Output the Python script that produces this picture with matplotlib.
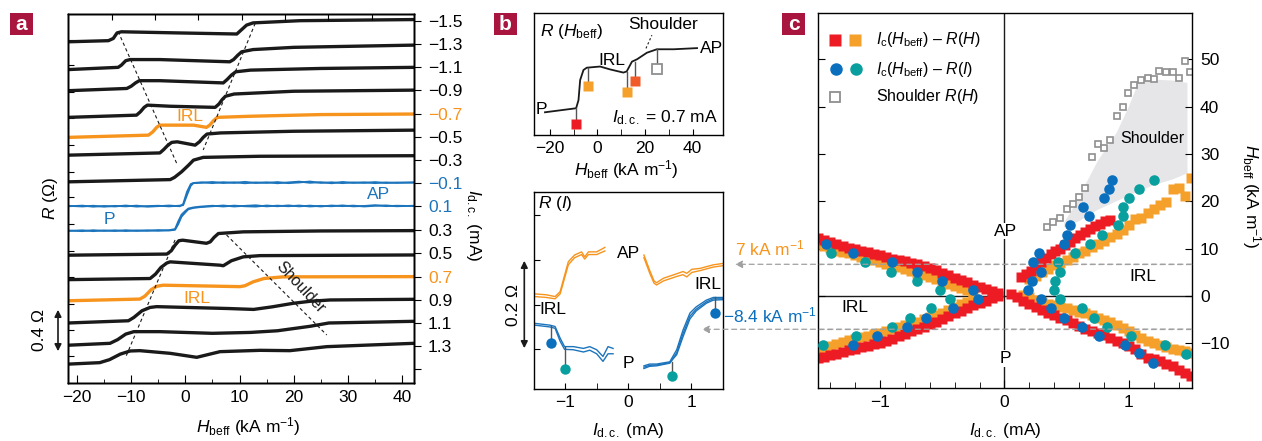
import matplotlib
matplotlib.use('Agg')
import matplotlib.pyplot as plt
from matplotlib.patches import Rectangle, Polygon, FancyArrowPatch
from matplotlib.ticker import MultipleLocator, FixedLocator

plt.rcParams['font.family'] = ['Liberation Sans', 'DejaVu Sans']
plt.rcParams['mathtext.fontset'] = 'custom'
plt.rcParams['mathtext.rm'] = 'Liberation Sans'
plt.rcParams['mathtext.it'] = 'Liberation Sans:italic'
plt.rcParams['mathtext.sf'] = 'Liberation Sans'
plt.rcParams['mathtext.bf'] = 'Liberation Sans:bold'
plt.rcParams['axes.linewidth'] = 1.0

# ---------------- Panel a data: R(H_beff) curves for each I_dc ----------------
current_labels = ['\u22121.5', '\u22121.3', '\u22121.1', '\u22120.9', '\u22120.7', '\u22120.5', '\u22120.3',
                  '\u22120.1', '0.1', '0.3', '0.5', '0.7', '0.9', '1.1', '1.3', '']
current_levels = [3.258, 3.048, 2.842, 2.632, 2.421, 2.214, 2.007, 1.800, 1.590, 1.377,
                  1.167, 0.957, 0.750, 0.543, 0.333, 0.126]

H_n15 = [-21.6, -14.2, -13.3, -12.6, -11.8, -1.6, 9.5, 10.4, 11.3, 12.5, 21.2, 42.2]
R_n15 = [3.07, 3.08, 3.10, 3.15, 3.16, 3.15, 3.14, 3.18, 3.22, 3.24, 3.26, 3.27]
H_n13 = [-21.6, -12.4, -11.8, -11.0, -10.2, -4.7, 8.2, 8.9, 9.7, 10.4, 12.5, 20, 42.2]
R_n13 = [2.82, 2.84, 2.86, 2.90, 2.91, 2.91, 2.89, 2.91, 2.95, 2.98, 3.00, 3.02, 3.04]
H_n11 = [-21.6, -10.8, -10.0, -9.2, -8.5, -4.7, 7.0, 7.7, 8.5, 9.3, 12.0, 25, 42.2]
R_n11 = [2.63, 2.65, 2.67, 2.70, 2.72, 2.72, 2.70, 2.73, 2.77, 2.80, 2.815, 2.83, 2.84]
H_n09 = [-21.6, -9.0, -8.3, -7.6, -7.0, -2.8, 5.5, 6.2, 6.8, 7.4, 9.0, 20, 42.2]
R_n09 = [2.39, 2.41, 2.44, 2.48, 2.50, 2.49, 2.48, 2.51, 2.55, 2.58, 2.60, 2.625, 2.635]
H_n07 = [-21.6, -6.8, -6.0, -5.3, -4.7, 1.5, 3.9, 4.5, 5.2, 5.9, 12, 25, 42.2]
R_n07 = [2.21, 2.23, 2.26, 2.30, 2.32, 2.32, 2.30, 2.32, 2.36, 2.39, 2.40, 2.415, 2.42]
H_n05 = [-21.6, -4.7, -4.0, -3.2, -2.5, -1.5, 1.8, 2.6, 3.3, 4.0, 6.5, 20, 42.2]
R_n05 = [2.05, 2.07, 2.10, 2.14, 2.165, 2.17, 2.14, 2.17, 2.21, 2.24, 2.25, 2.265, 2.275]
H_n03 = [-21.6, -2.8, -2.0, -0.7, 0.6, 1.5, 3.3, 13.8, 42.2]
R_n03 = [1.81, 1.83, 1.85, 1.90, 1.96, 2.005, 2.03, 2.04, 2.045]
H_n01 = [-21.6, -19, -17, -15, -13, -11, -9, -7, -5, -3, -1, -0.4, 0.3, 1.0, 1.5, 3, 5, 7, 9, 11,
         13, 15, 17, 19, 21, 23, 25, 27, 29, 31, 33, 35, 37, 39, 42.2]
R_n01a = [1.590, 1.596, 1.586, 1.593, 1.588, 1.597, 1.587, 1.592, 1.595, 1.589, 1.596,
          1.600, 1.690, 1.775, 1.798,
          1.801, 1.809, 1.799, 1.806, 1.797, 1.805, 1.800, 1.808, 1.798, 1.804, 1.813, 1.800,
          1.806, 1.798, 1.805, 1.800, 1.808, 1.799, 1.804, 1.802]
R_n01b = [1.594, 1.588, 1.595, 1.586, 1.594, 1.589, 1.596, 1.586, 1.591, 1.597, 1.590,
          1.610, 1.720, 1.790, 1.800,
          1.806, 1.798, 1.807, 1.800, 1.810, 1.799, 1.806, 1.797, 1.805, 1.812, 1.801, 1.807,
          1.797, 1.809, 1.800, 1.806, 1.798, 1.805, 1.800, 1.806]
H_p01 = [-21.6, -19, -17, -15, -13, -11, -9, -7, -5, -3, -1.9, -1.3, -0.7, 0, 0.55, 1.5, 2.7,
         5, 7, 9, 11, 13, 15, 17, 19, 21, 23, 25, 27, 29, 31, 33, 35, 37, 39, 42.2]
R_p01a = [1.372, 1.366, 1.375, 1.368, 1.374, 1.367, 1.373, 1.369, 1.376, 1.372,
          1.378, 1.430, 1.497, 1.535, 1.563, 1.575, 1.582,
          1.590, 1.597, 1.588, 1.594, 1.599, 1.589, 1.596, 1.590, 1.597, 1.588, 1.594, 1.590,
          1.598, 1.589, 1.593, 1.600, 1.591, 1.595, 1.592]
R_p01b = [1.368, 1.374, 1.366, 1.373, 1.367, 1.375, 1.368, 1.374, 1.369, 1.375,
          1.385, 1.455, 1.515, 1.548, 1.570, 1.580, 1.587,
          1.595, 1.588, 1.596, 1.590, 1.587, 1.597, 1.590, 1.598, 1.589, 1.596, 1.588, 1.597,
          1.591, 1.596, 1.588, 1.594, 1.598, 1.590, 1.595]
H_p03 = [-21.6, -3.4, -2.6, -1.9, -1.2, -0.5, 3.9, 4.6, 5.3, 6.1, 10.7, 25, 42.2]
R_p03 = [1.15, 1.16, 1.19, 1.24, 1.28, 1.285, 1.257, 1.27, 1.31, 1.345, 1.36, 1.368, 1.371]
H_p05 = [-21.6, -6.5, -5.5, -4.5, -3.4, -2.8, 6.4, 7.0, 8.5, 10.7, 13.8, 42.2]
R_p05 = [0.93, 0.94, 0.98, 1.04, 1.08, 1.09, 1.06, 1.055, 1.10, 1.135, 1.146, 1.152]
H_p07 = [-21.6, -8.4, -7.5, -6.3, -5.3, -4.1, 10.1, 11.0, 12.5, 14.5, 18, 42.2]
R_p07 = [0.74, 0.755, 0.78, 0.84, 0.87, 0.88, 0.867, 0.875, 0.91, 0.94, 0.955, 0.957]
H_p09 = [-21.6, -10.5, -9.5, -8.0, -6.5, -5.3, 8, 12.6, 16, 19.9, 23, 26.7, 42.2]
R_p09 = [0.54, 0.56, 0.59, 0.65, 0.68, 0.687, 0.67, 0.662, 0.685, 0.717, 0.735, 0.747, 0.753]
H_p11 = [-21.6, -13.9, -12.5, -11.0, -9.5, -4.7, 5, 12, 17, 23, 26.5, 42.2]
R_p11 = [0.34, 0.357, 0.39, 0.44, 0.462, 0.462, 0.447, 0.455, 0.47, 0.51, 0.54, 0.555]
H_p13 = [-21.6, -15.8, -14.0, -12.0, -10.2, -8.4, -2.8, 2.1, 6.4, 13.8, 19.3, 26.1, 42.2]
R_p13 = [0.17, 0.183, 0.21, 0.26, 0.288, 0.291, 0.267, 0.231, 0.282, 0.294, 0.291, 0.327, 0.357]

# guide lines in panel a (switching fields)
guide1_H = [-12.4, -1.6];  guide1_R = [3.162, 1.977]
guide2_H = [12.9, 3.3];    guide2_R = [3.237, 2.097]
guide3_H = [-1.9, -11.1];  guide3_R = [1.287, 0.222]
guide4_H = [7.6, 26.1];    guide4_R = [1.332, 0.432]

a_left_ticks = [0.24, 0.48, 0.71, 0.95, 1.19, 1.43, 1.67, 1.90, 2.14, 2.38, 2.62, 2.86, 3.09]
a_top_ticks = [-13.6, -5.6, 2.4, 10.4, 18.4, 26.4, 34.4]

# ---------------- Panel b (top): R(H_beff) at I_dc = 0.7 mA ----------------
b1_H = [-22.1, -9.0, -8.0, -7.3, -5.9, -4.5, 1.1, 5.3, 10.9, 12.3, 14.5, 16.6, 20.8, 25.0, 32.1, 41.9]
b1_R = [0.738, 0.752, 0.78, 0.850, 0.885, 0.893, 0.897, 0.887, 0.876, 0.880, 0.914, 0.922, 0.945,
        0.957, 0.957, 0.961]
b1_mk_H = [-8.9, -4.1, 12.4, 15.9, 25.0]
b1_mk_R = [0.696, 0.829, 0.810, 0.848, 0.887]
b1_mk_top = [0.752, 0.893, 0.879, 0.914, 0.957]

# ---------------- Panel b (bottom): R(I) ----------------
b2_or_left_I = [-1.48, -1.30, -1.16, -1.08, -0.95, -0.85, -0.74, -0.69, -0.63, -0.50, -0.37]
b2_or_left_Ra = [0.224, 0.222, 0.218, 0.229, 0.296, 0.311, 0.318, 0.307, 0.318, 0.318, 0.328]
b2_or_left_Rb = [0.218, 0.216, 0.213, 0.224, 0.289, 0.305, 0.312, 0.302, 0.312, 0.312, 0.320]
b2_or_right_I = [0.25, 0.34, 0.41, 0.45, 0.56, 0.77, 0.87, 0.93, 1.01, 1.14, 1.35, 1.50]
b2_or_right_Ra = [0.311, 0.277, 0.253, 0.249, 0.259, 0.269, 0.274, 0.270, 0.279, 0.281, 0.289, 0.292]
b2_or_right_Rb = [0.305, 0.271, 0.248, 0.244, 0.253, 0.263, 0.267, 0.262, 0.272, 0.276, 0.284, 0.287]
b2_bl_left_I = [-1.48, -1.24, -1.16, -1.08, -1.01, -0.87, -0.71, -0.61, -0.50, -0.40, -0.32, -0.24]
b2_bl_left_Ra = [0.158, 0.154, 0.151, 0.125, 0.106, 0.106, 0.102, 0.106, 0.099, 0.084, 0.106, 0.102]
b2_bl_left_Rb = [0.154, 0.150, 0.147, 0.118, 0.100, 0.099, 0.094, 0.098, 0.090, 0.073, 0.090, 0.090]
b2_bl_right_I = [0.25, 0.34, 0.45, 0.66, 0.77, 0.87, 0.98, 1.08, 1.24, 1.35, 1.50]
b2_bl_right_Ra = [0.063, 0.067, 0.067, 0.072, 0.099, 0.143, 0.181, 0.195, 0.210, 0.216, 0.216]
b2_bl_right_Rb = [0.057, 0.062, 0.063, 0.069, 0.092, 0.135, 0.174, 0.190, 0.206, 0.213, 0.213]
b2_bl_right_Rc = [0.060, 0.064, 0.065, 0.070, 0.088, 0.128, 0.168, 0.186, 0.203, 0.210, 0.211]
b2_mk_I = [-1.23, -1.0, 0.69, 1.38]
b2_mk_R = [0.115, 0.055, 0.041, 0.181]
b2_mk_top = [0.153, 0.106, 0.072, 0.216]

# ---------------- Panel c: phase diagram ----------------
red_ul_x = [-1.50, -1.45, -1.40, -1.35, -1.30, -1.25, -1.20, -1.15, -1.10, -1.05, -1.00, -0.95, -0.90,
            -0.85, -0.80, -0.75, -0.70, -0.65, -0.60, -0.55, -0.50, -0.45, -0.40, -0.35, -0.30, -0.25,
            -0.20, -0.15, -0.10, -0.05]
red_ul_y = [12.2, 11.8, 11.4, 11.0, 10.6, 10.2, 10.0, 9.6, 9.2, 8.8, 8.6, 8.2, 7.9, 7.6, 7.3, 7.0, 6.7,
            6.3, 5.9, 5.4, 4.9, 4.4, 3.9, 3.4, 2.9, 2.4, 1.9, 1.5, 1.1, 0.7]
red_ll_x = red_ul_x
red_ll_y = [-13.2, -12.9, -12.5, -12.2, -11.8, -11.5, -11.1, -10.8, -10.5, -10.2, -9.9, -9.5, -9.0,
            -8.5, -8.0, -7.5, -7.0, -6.5, -6.0, -5.4, -4.8, -4.3, -3.7, -3.1, -2.6, -2.0, -1.5, -1.0,
            -0.5, 0.0]
red_lr_x = [0.05, 0.10, 0.15, 0.20, 0.25, 0.30, 0.35, 0.40, 0.45, 0.50, 0.55, 0.60, 0.65, 0.70, 0.75,
            0.80, 0.85, 0.90, 0.95, 1.00, 1.05, 1.10, 1.15, 1.20, 1.25, 1.30, 1.35, 1.40, 1.45, 1.50]
red_lr_y = [0.5, -0.2, -1.0, -1.6, -2.3, -2.9, -3.5, -4.0, -4.6, -5.1, -5.8, -6.4, -6.9, -7.3, -7.8,
            -8.3, -8.9, -9.5, -10.0, -10.6, -11.3, -12.3, -13.0, -13.3, -13.8, -14.3, -14.8, -15.6,
            -16.3, -16.8]
red_ur_x = [0.13, 0.17, 0.21, 0.25, 0.29, 0.33, 0.37, 0.41, 0.45, 0.49, 0.53, 0.57, 0.61, 0.65, 0.69,
            0.73, 0.77, 0.81, 0.85]
red_ur_y = [4.0, 4.6, 5.3, 6.4, 7.2, 8.0, 8.8, 9.5, 10.0, 10.8, 11.5, 12.2, 12.9, 13.5, 14.2, 14.8,
            15.3, 15.8, 16.1]

or_ul_x = [-1.50, -1.45, -1.40, -1.35, -1.30, -1.25, -1.20, -1.15, -1.10, -1.05, -1.00, -0.95, -0.90,
           -0.85, -0.80, -0.75, -0.70, -0.65, -0.60, -0.55, -0.50, -0.45, -0.40, -0.35, -0.30, -0.25]
or_ul_y = [11.0, 10.5, 10.1, 9.6, 9.3, 9.0, 8.6, 8.2, 7.8, 7.5, 7.2, 6.8, 6.4, 6.1, 5.7, 5.3, 4.9, 4.5,
           4.1, 3.6, 3.1, 2.6, 2.1, 1.7, 1.2, 0.8]
or_ll_x = or_ul_x
or_ll_y = [-11.5, -11.0, -10.6, -10.2, -9.8, -9.4, -9.0, -8.7, -8.4, -8.1, -7.8, -7.4, -7.0, -6.6,
           -6.2, -5.8, -5.4, -4.9, -4.5, -4.0, -3.5, -3.0, -2.4, -1.8, -1.2, -0.6]
or_lr_x = [0.15, 0.20, 0.25, 0.30, 0.35, 0.40, 0.45, 0.50, 0.55, 0.60, 0.65, 0.70, 0.75, 0.80, 0.85,
           0.90, 0.95, 1.00, 1.05, 1.10, 1.15, 1.20, 1.25, 1.30, 1.35, 1.40, 1.45, 1.50]
or_lr_y = [0.3, -0.3, -0.8, -1.2, -1.6, -1.9, -2.3, -2.6, -3.0, -3.3, -3.7, -4.1, -4.6, -5.1, -5.6,
           -6.2, -6.8, -7.5, -8.2, -8.9, -9.5, -10.0, -10.3, -10.8, -11.2, -11.4, -11.6, -12.0]
or_ur_x = [0.20, 0.25, 0.30, 0.35, 0.40, 0.45, 0.50, 0.55, 0.60, 0.65, 0.70, 0.75, 0.80, 0.85, 0.90,
           0.95, 1.00, 1.05, 1.10, 1.15, 1.20, 1.25, 1.30, 1.35, 1.40, 1.45, 1.50]
or_ur_y = [3.5, 4.3, 5.0, 5.8, 6.5, 7.0, 7.6, 8.3, 9.0, 9.6, 10.3, 11.0, 11.7, 12.4, 13.0, 14.0, 15.0,
           16.2, 16.5, 17.5, 18.3, 19.2, 19.8, 22.5, 22.8, 21.2, 25.0]

blue_x = [-1.43, -1.22, -0.90, -0.70, -0.50, -0.25, -0.21, -0.41, -0.63, -0.78, -1.02, -1.22,
          0.19, 0.22, 0.29, 0.23, 0.28, 0.48, 0.50, 0.53, 0.68, 0.63, 0.80, 0.84, 0.86,
          0.29, 0.37, 0.48, 0.62, 0.76, 0.97, 1.08, 1.19]
blue_y = [10.9, 9.0, 7.1, 5.1, 3.2, 1.3, -0.6, -2.6, -4.6, -6.5, -8.5, -10.4,
          1.3, 3.2, 5.1, 7.1, 9.0, 10.9, 12.9, 14.9, 16.8, 18.7, 20.6, 22.6, 24.5,
          -0.6, -2.6, -4.6, -6.5, -8.5, -10.4, -12.1, -14.2]
teal_x = [-1.46, -1.19, -0.90, -0.76, -0.59, -0.44, -0.52, -0.70, -0.91, -1.12, -1.39,
          0.45, 0.40, 0.41, 0.45, 0.43, 0.57, 0.69, 0.78, 0.91, 0.95, 0.95, 1.00, 1.08, 1.20,
          0.62, 0.72, 0.82, 1.02, 1.29, 1.46]
teal_y = [-10.4, -8.5, -6.5, -4.6, -2.6, -0.6, 1.3, 3.2, 5.1, 7.1, 9.0,
          -0.6, 1.3, 3.2, 5.1, 7.1, 9.0, 10.9, 12.9, 14.9, 16.8, 18.7, 20.6, 22.6, 24.5,
          -2.6, -4.6, -6.5, -8.5, -10.4, -12.3]
shoulder_x = [0.34, 0.39, 0.45, 0.50, 0.55, 0.60, 0.65, 0.70, 0.75, 0.80, 0.85, 0.90, 0.95, 0.99,
              1.04, 1.10, 1.15, 1.20, 1.24, 1.30, 1.35, 1.40, 1.45, 1.49]
shoulder_y = [14.6, 15.7, 16.4, 18.4, 19.4, 21.0, 22.9, 29.4, 32.0, 31.3, 33.0, 38.1, 40.0, 42.8,
              44.5, 45.6, 46.1, 45.8, 47.5, 47.3, 47.2, 46.0, 49.6, 47.3]
shade_x = [0.48, 0.55, 0.65, 0.75, 0.90, 1.00, 1.08, 1.20, 1.35, 1.47,
           1.47, 1.35, 1.20, 1.05, 0.90, 0.75, 0.60, 0.48]
shade_y = [15.5, 18.5, 23.5, 28.5, 34.4, 40.0, 45.3, 45.7, 45.5, 45.0,
           25.9, 24.6, 23.4, 21.8, 20.0, 18.2, 15.8, 14.5]
field_irl_pos = 6.7     # kA/m, dashed guide (label 7)
field_irl_neg = -7.0    # kA/m, dashed guide (label -8.4)

# ---------------- colours ----------------
BLACK = '#1a1a1a'
ORANGE = '#f7941d'
BLUE = '#1c75bc'
RED = '#ed1c24'
ORSQ = '#f6a02c'
REDOR = '#f15a29'
DBLUE = '#0a6fbd'
TEAL = '#0a9f9f'
GRAY = '#8f8f8f'
CRIMSON = '#a8163f'
FS = 12.5
FS_S = 11.5

W, H = 1262, 441
fig = plt.figure(figsize=(W / 100, H / 100), dpi=100)


def rect(l, t, r, b):
    return [l / W, 1 - b / H, (r - l) / W, (b - t) / H]


def fpx(x, y):
    return (x / W, 1 - y / H)


ax_a = fig.add_axes(rect(68.3, 14, 414, 383))
ax_b1 = fig.add_axes(rect(534.3, 13.3, 722.7, 135.3))
ax_b2 = fig.add_axes(rect(534.3, 191.7, 722.7, 389))
ax_c = fig.add_axes(rect(817.7, 13.3, 1191.7, 388.3))

# ================= Panel a =================
black_curves = [(H_n15, R_n15, BLACK), (H_n13, R_n13, BLACK), (H_n11, R_n11, BLACK),
                (H_n09, R_n09, BLACK), (H_n07, R_n07, ORANGE), (H_n05, R_n05, BLACK),
                (H_n03, R_n03, BLACK), (H_p03, R_p03, BLACK), (H_p05, R_p05, BLACK),
                (H_p07, R_p07, ORANGE), (H_p09, R_p09, BLACK), (H_p11, R_p11, BLACK),
                (H_p13, R_p13, BLACK)]
for hh, rr, col in black_curves:
    ax_a.plot(hh, rr, color=col, lw=2.4, solid_joinstyle='round', solid_capstyle='round')
for rr in (R_n01a, R_n01b):
    ax_a.plot(H_n01, rr, color=BLUE, lw=1.3)
for rr in (R_p01a, R_p01b):
    ax_a.plot(H_p01, rr, color=BLUE, lw=1.3)
for gh, gr in ((guide1_H, guide1_R), (guide2_H, guide2_R), (guide3_H, guide3_R), (guide4_H, guide4_R)):
    ax_a.plot(gh, gr, color=BLACK, lw=0.8, ls=(0, (3, 2.5)))

ax_a.set_xlim(-21.6, 42.2)
ax_a.set_ylim(0, 3.32)
ax_a.xaxis.set_major_locator(MultipleLocator(10))
ax_a.xaxis.set_minor_locator(MultipleLocator(5))
ax_a.tick_params(axis='x', which='major', direction='in', length=6, labelsize=FS, pad=5)
ax_a.tick_params(axis='x', which='minor', direction='in', length=3)
ax_a.yaxis.set_major_locator(FixedLocator(a_left_ticks))
ax_a.tick_params(axis='y', direction='in', length=4, labelleft=False)

ax_ar = ax_a.twinx()
ax_ar.set_ylim(0, 3.32)
ax_ar.set_yticks(current_levels)
ax_ar.set_yticklabels(current_labels)
ax_ar.tick_params(axis='y', direction='out', length=5, labelsize=FS, pad=5)
for lab, txt in zip(ax_ar.get_yticklabels(), current_labels):
    if txt in ('\u22120.7', '0.7'):
        lab.set_color(ORANGE)
    elif txt in ('\u22120.1', '0.1'):
        lab.set_color(BLUE)

ax_at = ax_a.twiny()
ax_at.set_xlim(-21.6, 42.2)
ax_at.set_xticks(a_top_ticks)
ax_at.tick_params(axis='x', direction='in', length=4, labeltop=False)

ax_a.text(0.86, 2.397, 'IRL', color=ORANGE, fontsize=FS, ha='center', va='center')
ax_a.text(2.1, 0.762, 'IRL', color=ORANGE, fontsize=FS, ha='center', va='center')
ax_a.text(35.6, 1.692, 'AP', color=BLUE, fontsize=FS, ha='center', va='center')
ax_a.text(-14.0, 1.473, 'P', color=BLUE, fontsize=FS, ha='center', va='center')
ax_a.text(21.3, 0.86, 'Shoulder', color=BLACK, fontsize=FS_S, ha='center', va='center',
          rotation=-47, rotation_mode='anchor')

fig.text(*fpx(248, 427), r'$H_{\rm beff}$ (kA m$^{-1}$)', fontsize=FS, ha='center', va='center')
fig.text(*fpx(50, 199), r'$R$ (Ω)', fontsize=FS, ha='center', va='center', rotation=90)
fig.text(*fpx(39.5, 330), '0.4 Ω', fontsize=FS, ha='center', va='center', rotation=90)
fig.text(*fpx(473, 225), r'$I_{\rm d.c.}$ (mA)', fontsize=FS, ha='center', va='center', rotation=270)
fig.add_artist(FancyArrowPatch(fpx(58, 307), fpx(58, 354), transform=fig.transFigure,
                               arrowstyle='<|-|>', mutation_scale=10, lw=1.2, color=BLACK))

# ================= Panel b top =================
ax_b1.plot(b1_H, b1_R, color=BLACK, lw=1.3)
sq_colors = [RED, ORSQ, ORSQ, REDOR, 'white']
for hx, ry, rt, col in zip(b1_mk_H, b1_mk_R, b1_mk_top, sq_colors):
    ax_b1.plot([hx, hx], [ry, rt], color='#555555', lw=1.0, zorder=2)
    if col == 'white':
        ax_b1.plot(hx, ry, 's', ms=6.5, mfc='white', mec=GRAY, mew=1.3, zorder=3)
    else:
        ax_b1.plot(hx, ry, 's', ms=7, mfc=col, mec='none', zorder=3)
ax_b1.plot([20.4, 22.9], [0.96, 1.006], color=BLACK, lw=0.8, ls=(0, (2, 2)))
ax_b1.set_xlim(-26.6, 52.7)
ax_b1.set_ylim(0.658, 1.082)
ax_b1.xaxis.set_major_locator(FixedLocator([-20, 0, 20, 40]))
ax_b1.xaxis.set_minor_locator(FixedLocator([-10, 10, 30]))
ax_b1.tick_params(axis='x', which='both', direction='in', length=4, labelsize=FS, pad=4)
ax_b1.set_yticks([])
ax_b1.text(-24.2, 1.018, r'$R$ ($H_{\rm beff}$)', fontsize=FS, ha='left', va='center')
ax_b1.text(27.8, 1.042, 'Shoulder', fontsize=FS, ha='center', va='center')
ax_b1.text(6.0, 0.917, 'IRL', fontsize=FS, ha='center', va='center')
ax_b1.text(-23.5, 0.746, 'P', fontsize=FS, ha='center', va='center')
ax_b1.text(43.3, 0.959, 'AP', fontsize=FS, ha='left', va='center')
ax_b1.text(50.6, 0.718, r'$I_{\rm d.c.}$ = 0.7 mA', fontsize=FS, ha='right', va='center')
fig.text(*fpx(626.7, 170), r'$H_{\rm beff}$ (kA m$^{-1}$)', fontsize=FS, ha='center', va='center')

# ================= Panel b bottom =================
for rr in (b2_or_left_Ra, b2_or_left_Rb):
    ax_b2.plot(b2_or_left_I, rr, color=ORANGE, lw=1.0)
for rr in (b2_or_right_Ra, b2_or_right_Rb):
    ax_b2.plot(b2_or_right_I, rr, color=ORANGE, lw=1.0)
for rr in (b2_bl_left_Ra, b2_bl_left_Rb):
    ax_b2.plot(b2_bl_left_I, rr, color=BLUE, lw=1.0)
for rr in (b2_bl_right_Ra, b2_bl_right_Rb, b2_bl_right_Rc):
    ax_b2.plot(b2_bl_right_I, rr, color=BLUE, lw=1.0)
circ_colors = [DBLUE, TEAL, TEAL, DBLUE]
for ix, ry, rt, col in zip(b2_mk_I, b2_mk_R, b2_mk_top, circ_colors):
    ax_b2.plot([ix, ix], [ry, rt], color='#555555', lw=1.0, zorder=2)
    ax_b2.plot(ix, ry, 'o', ms=7.5, mfc=col, mec='none', zorder=3)
ax_b2.set_xlim(-1.49, 1.5)
ax_b2.set_ylim(0.0112, 0.4526)
ax_b2.xaxis.set_major_locator(FixedLocator([-1, 0, 1]))
ax_b2.xaxis.set_minor_locator(FixedLocator([-1.5, -0.5, 0.5, 1.5]))
ax_b2.tick_params(axis='x', which='both', direction='in', length=4, labelsize=FS, pad=4)
ax_b2.yaxis.set_major_locator(FixedLocator([0.1, 0.2, 0.3, 0.4]))
ax_b2.tick_params(axis='y', direction='in', length=4, labelleft=False)
ax_b2.text(-1.433, 0.4266, r'$R$ ($I$)', fontsize=FS, ha='left', va='center')
ax_b2.text(0.0, 0.315, 'AP', fontsize=FS, ha='center', va='center')
ax_b2.text(1.27, 0.244, 'IRL', fontsize=FS, ha='center', va='center')
ax_b2.text(-1.19, 0.188, 'IRL', fontsize=FS, ha='center', va='center')
ax_b2.text(0.0, 0.069, 'P', fontsize=FS, ha='center', va='center')
fig.text(*fpx(628.3, 430), r'$I_{\rm d.c.}$ (mA)', fontsize=FS, ha='center', va='center')
fig.text(*fpx(513.3, 305), '0.2 Ω', fontsize=FS, ha='center', va='center', rotation=90)
fig.add_artist(FancyArrowPatch(fpx(524.3, 258), fpx(524.3, 351), transform=fig.transFigure,
                               arrowstyle='<|-|>', mutation_scale=10, lw=1.2, color=BLACK))
fig.text(*fpx(769.7, 248.3), r'7 kA m$^{-1}$', fontsize=FS, color=ORANGE, ha='center', va='center')
fig.text(*fpx(770, 315), '\u22128.4 kA m$^{-1}$', fontsize=FS, color=DBLUE, ha='center', va='center')

# ================= Panel c =================
ax_c.add_patch(Polygon(list(zip(shade_x, shade_y)), closed=True, facecolor='#e6e6e8', edgecolor='none',
                       zorder=1))
ax_c.axvline(0, color=BLACK, lw=1.0, zorder=1.5)
ax_c.axhline(0, color=BLACK, lw=1.0, zorder=1.5)
for yv in (field_irl_pos, field_irl_neg):
    ax_c.axhline(yv, color='#a0a0a0', lw=0.9, ls=(0, (4, 3)), zorder=1.2)
for xs, ys in ((or_ul_x, or_ul_y), (or_ll_x, or_ll_y), (or_lr_x, or_lr_y), (or_ur_x, or_ur_y)):
    ax_c.plot(xs, ys, 's', ms=6.6, mfc=ORSQ, mec='none', ls='none', zorder=2)
for xs, ys in ((red_ul_x, red_ul_y), (red_ll_x, red_ll_y), (red_lr_x, red_lr_y), (red_ur_x, red_ur_y)):
    ax_c.plot(xs, ys, 's', ms=6.6, mfc=RED, mec='none', ls='none', zorder=2.1)
ax_c.plot(shoulder_x, shoulder_y, 's', ms=4.0, mfc='white', mec=GRAY, mew=1.2, ls='none', zorder=2.2)
ax_c.plot(teal_x, teal_y, 'o', ms=7.6, mfc=TEAL, mec='none', ls='none', zorder=3)
ax_c.plot(blue_x, blue_y, 'o', ms=7.6, mfc=DBLUE, mec='none', ls='none', zorder=3.1)

ax_c.set_xlim(-1.5, 1.504)
ax_c.set_ylim(-19.5, 59.7)
ax_c.xaxis.set_major_locator(FixedLocator([-1, 0, 1]))
ax_c.xaxis.set_minor_locator(MultipleLocator(0.2))
ax_c.tick_params(axis='x', which='major', direction='in', length=6, labelsize=FS, pad=5)
ax_c.tick_params(axis='x', which='minor', direction='in', length=4)
ax_c.yaxis.set_major_locator(FixedLocator([-10, 0, 10, 20, 30, 40, 50]))
ax_c.tick_params(axis='y', direction='in', length=5, left=True, right=True, labelleft=False,
                 labelright=True, labelsize=FS, pad=6)

ax_c.text(0.01, 13.7, 'AP', fontsize=FS, ha='center', va='center', zorder=4,
          bbox=dict(facecolor='white', edgecolor='none', pad=0.5))
ax_c.text(0.01, -13.2, 'P', fontsize=FS, ha='center', va='center', zorder=4,
          bbox=dict(facecolor='white', edgecolor='none', pad=0.5))
ax_c.text(1.11, 4.2, 'IRL', fontsize=FS, ha='center', va='center')
ax_c.text(-1.2, -2.4, 'IRL', fontsize=FS, ha='center', va='center')
ax_c.text(1.186, 33.3, 'Shoulder', fontsize=FS_S, ha='center', va='center', zorder=4)

# legend (manual)
ax_c.plot([-1.36], [54.1], 's', ms=9, mfc=RED, mec='none')
ax_c.plot([-1.20], [54.1], 's', ms=9, mfc=ORSQ, mec='none')
ax_c.plot([-1.35], [47.9], 'o', ms=9, mfc=DBLUE, mec='none')
ax_c.plot([-1.19], [47.9], 'o', ms=9, mfc=TEAL, mec='none')
ax_c.plot([-1.36], [42.1], 's', ms=7, mfc='white', mec=GRAY, mew=1.3)
ax_c.text(-1.03, 54.1, '$I_{\\rm c}(H_{\\rm beff})$ \u2013 $R(H)$', fontsize=FS_S, ha='left', va='center')
ax_c.text(-1.03, 47.9, '$I_{\\rm c}(H_{\\rm beff})$ \u2013 $R(I)$', fontsize=FS_S, ha='left', va='center')
ax_c.text(-1.03, 42.1, 'Shoulder $R(H)$', fontsize=FS_S, ha='left', va='center')

fig.text(*fpx(1005, 430), r'$I_{\rm d.c.}$ (mA)', fontsize=FS, ha='center', va='center')
fig.text(*fpx(1251.7, 196.7), r'$H_{\rm beff}$ (kA m$^{-1}$)', fontsize=FS, ha='center', va='center',
         rotation=270)

# dashed arrows from panel b to panel c
for tip, yv in (((735, H - 264.3), field_irl_pos), ((701.7, H - 329.3), field_irl_neg)):
    ax_c.annotate('', xy=tip, xycoords='figure pixels', xytext=(1.504, yv),
                  textcoords='data', annotation_clip=False,
                  arrowprops=dict(arrowstyle='-|>', color='#a0a0a0', lw=0.9, ls=(0, (4, 3)),
                                  mutation_scale=11, shrinkA=0, shrinkB=0))

# panel letters
for letter, (x0, y0) in (('a', (10, 13)), ('b', (494, 13)), ('c', (782, 13))):
    fig.add_artist(Rectangle(fpx(x0, y0 + 22), 23 / W, 22 / H, transform=fig.transFigure,
                             facecolor=CRIMSON, edgecolor='none'))
    fig.text(*fpx(x0 + 11.5, y0 + 11), letter, color='white', fontsize=15, fontweight='bold',
             ha='center', va='center')

fig.savefig('out.png', dpi=100)
